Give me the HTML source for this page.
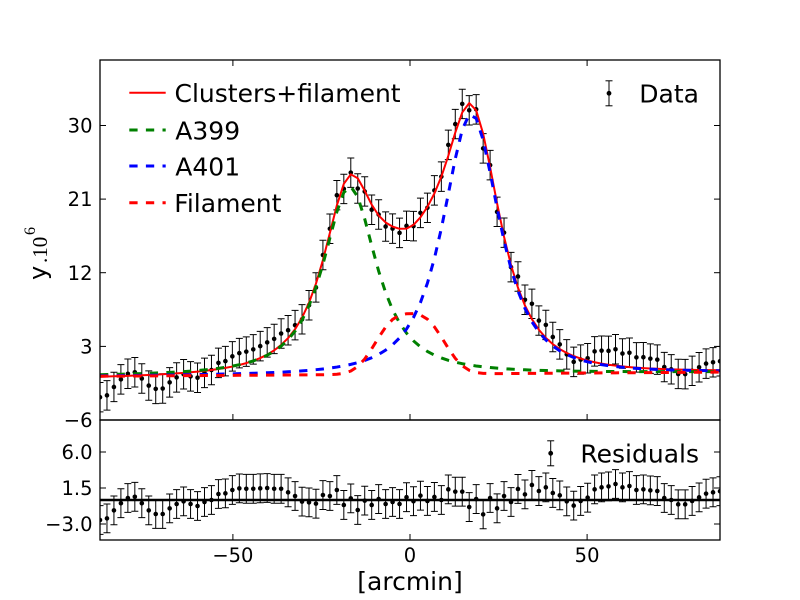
<!DOCTYPE html>
<html>
<head>
<meta charset="utf-8">
<style>
  html,body{margin:0;padding:0;background:#fff;}
  svg{display:block;}
  text{font-family:"DejaVu Sans","Liberation Sans",sans-serif;fill:#000;}
  .tick{font-size:19.5px;}
  .leg{font-size:25px;}
</style>
</head>
<body>
<svg id="chart" xmlns="http://www.w3.org/2000/svg" width="800" height="600" viewBox="0 0 800 600">
  <rect x="0" y="0" width="800" height="600" fill="#fff"/>
  <defs>
    <clipPath id="cm"><rect x="100" y="60" width="620" height="360"/></clipPath>
    <clipPath id="cr"><rect x="100" y="420" width="620" height="120"/></clipPath>
  </defs>

  <g id="mainData" clip-path="url(#cm)"></g>
  <g id="mainLines" clip-path="url(#cm)"></g>
  <g id="resData" clip-path="url(#cr)"></g>
  <line x1="100" y1="500" x2="720" y2="500" stroke="#000" stroke-width="2.5"/>

  <!-- frames -->
  <rect x="100" y="60" width="620" height="360" fill="none" stroke="#000" stroke-width="1.3"/>
  <rect x="100" y="420" width="620" height="120" fill="none" stroke="#000" stroke-width="1.3"/>

  <!-- ticks -->
  <g stroke="#000" stroke-width="1">
    <line x1="232.9" y1="60" x2="232.9" y2="66"/>
    <line x1="410" y1="60" x2="410" y2="66"/>
    <line x1="587.1" y1="60" x2="587.1" y2="66"/>
    <line x1="232.9" y1="420" x2="232.9" y2="414"/>
    <line x1="410" y1="420" x2="410" y2="414"/>
    <line x1="587.1" y1="420" x2="587.1" y2="414"/>
    <line x1="100" y1="125.5" x2="106" y2="125.5"/>
    <line x1="100" y1="199.1" x2="106" y2="199.1"/>
    <line x1="100" y1="272.7" x2="106" y2="272.7"/>
    <line x1="100" y1="346.4" x2="106" y2="346.4"/>
    <line x1="720" y1="125.5" x2="714" y2="125.5"/>
    <line x1="720" y1="199.1" x2="714" y2="199.1"/>
    <line x1="720" y1="272.7" x2="714" y2="272.7"/>
    <line x1="720" y1="346.4" x2="714" y2="346.4"/>
    <line x1="232.9" y1="540" x2="232.9" y2="534"/>
    <line x1="410" y1="540" x2="410" y2="534"/>
    <line x1="587.1" y1="540" x2="587.1" y2="534"/>
    <line x1="100" y1="452" x2="106" y2="452"/>
    <line x1="100" y1="488" x2="106" y2="488"/>
    <line x1="100" y1="524" x2="106" y2="524"/>
    <line x1="720" y1="452" x2="714" y2="452"/>
    <line x1="720" y1="488" x2="714" y2="488"/>
    <line x1="720" y1="524" x2="714" y2="524"/>
  </g>

  <g class="tick" text-anchor="end">
    <text class="tick" x="92.5" y="132.6">30</text>
    <text class="tick" x="92.5" y="206.2">21</text>
    <text class="tick" x="92.5" y="279.8">12</text>
    <text class="tick" x="92.5" y="353.5">3</text>
    <text class="tick" x="92.5" y="427">−6</text>
    <text class="tick" x="92.5" y="459.1">6.0</text>
    <text class="tick" x="92.5" y="495.1">1.5</text>
    <text class="tick" x="92.5" y="531.1">−3.0</text>
  </g>
  <g text-anchor="middle">
    <text class="tick" x="232.9" y="562">−50</text>
    <text class="tick" x="410" y="562">0</text>
    <text class="tick" x="587.1" y="562">50</text>
  </g>
  <text class="leg" x="410" y="590" text-anchor="middle">[arcmin]</text>

  <!-- y label -->
  <text transform="translate(46,280) rotate(-90)" style="font-size:24px;font-family:'DejaVu Sans','Liberation Sans',sans-serif;">y</text>
  <text transform="translate(47,263) rotate(-90)" style="font-size:21px;font-family:'Liberation Serif','DejaVu Serif',serif;">.10</text>
  <text transform="translate(35,235) rotate(-90)" style="font-size:16px;font-family:'Liberation Serif','DejaVu Serif',serif;">6</text>

  <!-- main legend -->
  <line x1="129.3" y1="92.7" x2="165.7" y2="92.7" stroke="#ff0000" stroke-width="2"/>
  <line x1="129.3" y1="130" x2="165.7" y2="130" stroke="#008000" stroke-width="3" stroke-dasharray="8.3 8.3"/>
  <line x1="129.3" y1="166" x2="165.7" y2="166" stroke="#0000ff" stroke-width="3" stroke-dasharray="8.3 8.3"/>
  <line x1="129.3" y1="202.7" x2="165.7" y2="202.7" stroke="#ff0000" stroke-width="3" stroke-dasharray="8.3 8.3"/>
  <text class="leg" x="174.5" y="102">Clusters+filament</text>
  <text class="leg" x="175.3" y="139.3">A399</text>
  <text class="leg" x="175.3" y="175.3">A401</text>
  <text class="leg" x="174.3" y="212">Filament</text>

  <!-- Data legend -->
  <g stroke="#000" stroke-width="1">
    <line x1="609" y1="80.8" x2="609" y2="105.8"/>
    <line x1="605.5" y1="80.8" x2="612.5" y2="80.8"/>
    <line x1="605.5" y1="105.8" x2="612.5" y2="105.8"/>
  </g>
  <circle cx="609" cy="93.3" r="2.4" fill="#000"/>
  <text class="leg" x="699" y="102.4" text-anchor="end">Data</text>

  <!-- Residual legend -->
  <g stroke="#000" stroke-width="1">
    <line x1="550.7" y1="440.8" x2="550.7" y2="465.8"/>
    <line x1="547.2" y1="440.8" x2="554.2" y2="440.8"/>
    <line x1="547.2" y1="465.8" x2="554.2" y2="465.8"/>
  </g>
  <circle cx="550.7" cy="453.3" r="2.4" fill="#000"/>
  <text class="leg" x="699" y="462.4" text-anchor="end">Residuals</text>
</svg>

<script>
(function(){
  var NS="http://www.w3.org/2000/svg";
  var N=90;
  var res=[-2.5,-2.3,-1.3,-0.4,0.25,0.4,-0.4,-1.3,-1.75,-1.75,
           -1.05,-0.5,-0.17,-0.5,-0.75,-0.25,0,0.75,0.83,1.25,
           1.45,1.4,1.4,1.46,1.5,1.4,1.4,0.96,0.5,-0.2,
           -0.3,-0.46,0.62,0.5,1.25,-0.62,0.2,-1.25,-0.08,-0.62,
           0.12,-0.5,-0.25,-0.5,0.35,-0.15,0.54,-0.12,0.38,0,
           1.33,1.04,1.04,-0.88,0.12,-1.8,0.25,-1.04,0.5,-0.25,
           1.38,0.7,1.88,1.12,1.58,0.88,0.58,-0.17,-0.7,-0.12,
           0.29,1.33,1.58,1.7,2.0,1.58,1.75,1.25,1.33,1.2,
           1.12,0.25,0,-0.54,-0.54,-0.12,0.33,0.79,0.96,1.1];
  function X(v){return 410+v*620/175;}
  function Y(v){return 420-(v+6)*360/44;}
  function R(v){return 500-v*8;}
  function model(x){
    var d=-0.4+0.00286*x;
    var g=23*Math.pow(1+(x+17)*(x+17)/108,-1.25);
    var b=31.8*Math.pow(1+(x-17.3)*(x-17.3)/151,-1.5);
    var f=7.4*Math.pow(2,-Math.pow(Math.abs(x)/10,2.75));
    return {d:d,g:g,b:b,f:f,t:d+g+b+f-0.15+0.0017*x};
  }
  var xs=[];for(var k=0;k<N;k++){xs.push(-87.5+k*175/89);}
  function mk(tag,attrs,parent){var e=document.createElementNS(NS,tag);for(var a in attrs)e.setAttribute(a,attrs[a]);parent.appendChild(e);return e;}

  var mainData=document.getElementById('mainData');
  var resData=document.getElementById('resData');
  var mainLines=document.getElementById('mainLines');

  var em=1.8*360/44, er=1.8*8, cw=3.5;
  var pm='',pr='';
  var ptsT=[],ptsG=[],ptsB=[],ptsF=[];
  for(var k=0;k<N;k++){
    var x=xs[k], px=X(x), m=model(x);
    var yv=Y(m.t+res[k]);
    pm+='M'+px.toFixed(2)+' '+(yv-em).toFixed(2)+'V'+(yv+em).toFixed(2)+
        'M'+(px-cw).toFixed(2)+' '+(yv-em).toFixed(2)+'h'+(2*cw)+
        'M'+(px-cw).toFixed(2)+' '+(yv+em).toFixed(2)+'h'+(2*cw);
    mk('circle',{cx:px.toFixed(2),cy:yv.toFixed(2),r:2.3,fill:'#000'},mainData);
    var yr=R(res[k]);
    pr+='M'+px.toFixed(2)+' '+(yr-er).toFixed(2)+'V'+(yr+er).toFixed(2)+
        'M'+(px-cw).toFixed(2)+' '+(yr-er).toFixed(2)+'h'+(2*cw)+
        'M'+(px-cw).toFixed(2)+' '+(yr+er).toFixed(2)+'h'+(2*cw);
    mk('circle',{cx:px.toFixed(2),cy:yr.toFixed(2),r:2.3,fill:'#000'},resData);
    ptsT.push(px.toFixed(2)+','+Y(m.t).toFixed(2));
    ptsG.push(px.toFixed(2)+','+Y(m.d+m.g).toFixed(2));
    ptsB.push(px.toFixed(2)+','+Y(m.d+m.b).toFixed(2));
    ptsF.push(px.toFixed(2)+','+Y(m.d+m.f).toFixed(2));
  }
  mainData.insertBefore(mk('path',{d:pm,stroke:'#000','stroke-width':1,fill:'none'},mainData),mainData.firstChild);
  resData.insertBefore(mk('path',{d:pr,stroke:'#000','stroke-width':1,fill:'none'},resData),resData.firstChild);

  mk('polyline',{points:ptsT.join(' '),fill:'none',stroke:'#ff0000','stroke-width':2,'stroke-linejoin':'round'},mainLines);
  mk('polyline',{points:ptsG.join(' '),fill:'none',stroke:'#008000','stroke-width':3,'stroke-dasharray':'8.3 8.3'},mainLines);
  mk('polyline',{points:ptsB.join(' '),fill:'none',stroke:'#0000ff','stroke-width':3,'stroke-dasharray':'8.3 8.3'},mainLines);
  mk('polyline',{points:ptsF.join(' '),fill:'none',stroke:'#ff0000','stroke-width':3,'stroke-dasharray':'8.3 8.3'},mainLines);
})();
</script>
</body>
</html>
